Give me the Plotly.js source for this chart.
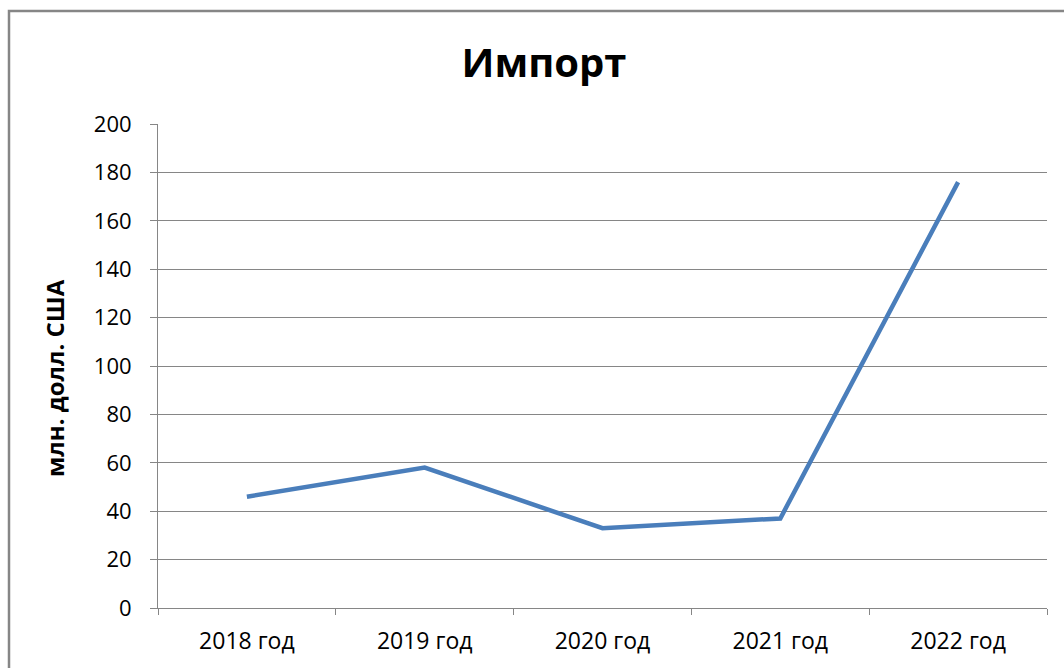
<!DOCTYPE html>
<html>
<head>
<meta charset="utf-8">
<script src="https://cdn.plot.ly/plotly-3.0.1.min.js"></script>
<style>
html,body{margin:0;padding:0;background:#fff;}
#chart{width:1064px;height:668px;}
</style>
</head>
<body>
<div id="chart"></div>
<script>
const categories = ["2018 год", "2019 год", "2020 год", "2021 год", "2022 год"];
const importValues = [46, 58, 33, 37, 176];
const yTickValues = [0, 20, 40, 60, 80, 100, 120, 140, 160, 180, 200];

const trace = {
  type: 'scatter',
  mode: 'lines',
  x: categories,
  y: importValues,
  line: {color: '#4A7EBB', width: 4.5},
  hoverinfo: 'x+y'
};

const layout = {
  width: 1064,
  height: 668,
  margin: {l: 158, r: 17, t: 124, b: 60},
  paper_bgcolor: '#ffffff',
  plot_bgcolor: '#ffffff',
  showlegend: false,
  title: {
    text: 'Импорт',
    font: {family: 'Open Sans', size: 40, color: '#000000', weight: 'bold'},
    x: 544 / 1064, xref: 'container', xanchor: 'center',
    y: 0.905, yref: 'container', yanchor: 'middle'
  },
  xaxis: {
    type: 'category',
    range: [-0.5, 4.5],
    showgrid: false,
    showline: true,
    linecolor: '#868686',
    linewidth: 1,
    ticks: 'outside',
    tickson: 'boundaries',
    ticklen: 6,
    tickcolor: '#868686',
    tickfont: {family: 'Open Sans', size: 23, color: '#000000'},
    ticklabelstandoff: 12,
    zeroline: false,
    fixedrange: true
  },
  yaxis: {
    range: [0, 200],
    tickvals: yTickValues,
    ticktext: yTickValues.map(String),
    showgrid: true,
    gridcolor: '#868686',
    gridwidth: 1,
    showline: true,
    linecolor: '#868686',
    linewidth: 1,
    ticks: 'outside',
    ticklen: 7,
    tickcolor: '#868686',
    tickfont: {family: 'Open Sans', size: 22, color: '#000000'},
    ticklabelstandoff: 14,
    zeroline: false,
    fixedrange: true
  },
  annotations: [{
    text: 'млн. долл. США',
    textangle: -90,
    xref: 'paper', yref: 'paper',
    x: (54 - 158) / 889, y: (608 - 378) / 484,
    xanchor: 'center', yanchor: 'middle',
    showarrow: false,
    font: {family: 'Open Sans', size: 24, color: '#000000', weight: 'bold'}
  }],
  shapes: [{
    type: 'rect',
    xref: 'paper', yref: 'paper',
    x0: (9 - 158) / 889, x1: (1075 - 158) / 889,
    y0: (608 - 680) / 484, y1: (608 - 11) / 484,
    line: {color: '#868686', width: 2.5},
    fillcolor: 'rgba(0,0,0,0)',
    layer: 'below'
  }]
};

Plotly.newPlot('chart', [trace], layout, {displayModeBar: false, staticPlot: true});
</script>
</body>
</html>
